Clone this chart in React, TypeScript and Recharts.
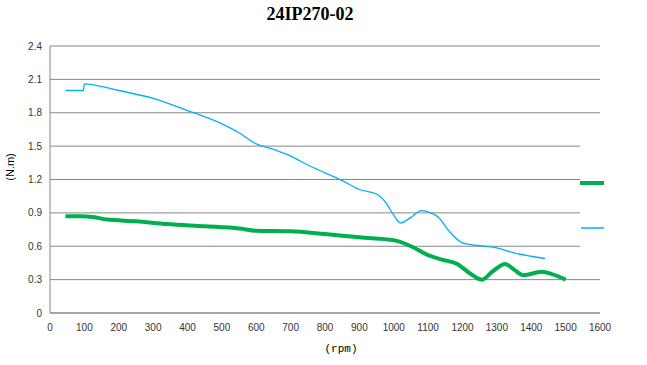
import React from 'react';
import { LineChart, Line, XAxis, YAxis, CartesianGrid, Legend, Label } from 'recharts';

const xTicks = [0, 100, 200, 300, 400, 500, 600, 700, 800, 900, 1000, 1100, 1200, 1300, 1400, 1500, 1600];
const yTicks = [0, 0.3, 0.6, 0.9, 1.2, 1.5, 1.8, 2.1, 2.4];

const blueRpm = [45, 97, 100, 115, 200, 300, 400, 500, 550, 600, 650, 700, 750, 800, 850, 900, 950, 975, 1000, 1020, 1050, 1080, 1100, 1130, 1160, 1200, 1250, 1300, 1350, 1400, 1440];
const blueTorque = [2.0, 2.0, 2.06, 2.055, 2.0, 1.93, 1.82, 1.7, 1.62, 1.52, 1.47, 1.41, 1.33, 1.26, 1.19, 1.11, 1.07, 1.0, 0.88, 0.81, 0.86, 0.92, 0.91, 0.86, 0.74, 0.63, 0.605, 0.585, 0.54, 0.51, 0.49];

const greenRpm = [45, 90, 130, 165, 250, 340, 450, 550, 600, 700, 800, 900, 1000, 1050, 1100, 1140, 1185, 1220, 1256, 1290, 1324, 1350, 1377, 1430, 1460, 1500];
const greenTorque = [0.87, 0.87, 0.86, 0.84, 0.825, 0.8, 0.78, 0.76, 0.74, 0.735, 0.71, 0.68, 0.655, 0.6, 0.52, 0.48, 0.44, 0.36, 0.3, 0.38, 0.44, 0.39, 0.34, 0.37, 0.35, 0.3];

const blueData = blueRpm.map((r, i) => ({ rpm: r, v: blueTorque[i] }));
const greenData = greenRpm.map((r, i) => ({ rpm: r, v: greenTorque[i] }));

const GREEN = '#00B050';
const BLUE = '#00B0F0';
const GRID = '#878787';

const tickStyle = { fontFamily: 'Liberation Sans', fontSize: 10, fill: '#333' };

const LegendBox = () => (
  <svg width={30} height={106} style={{ display: 'block' }}>
    <line x1={0} x2={24} y1={38} y2={38} stroke={GREEN} strokeWidth={4} />
    <line x1={1} x2={24} y1={83} y2={83} stroke={BLUE} strokeWidth={1.5} />
  </svg>
);

export default function App() {
  return (
    <div style={{ position: 'absolute', left: 0, top: 0, width: 647, height: 365, background: '#fff' }}>
      <div
        style={{
          position: 'absolute',
          left: 0,
          width: 620,
          top: 4,
          textAlign: 'center',
          fontFamily: 'Liberation Serif',
          fontWeight: 'bold',
          fontSize: 18,
          color: '#000',
        }}
      >
        24IP270-02
      </div>
      <LineChart width={647} height={365} margin={{ top: 46, right: 47, bottom: 22, left: 0 }}>
        <CartesianGrid vertical={false} stroke={GRID} strokeWidth={1} />
        <XAxis
          type="number"
          dataKey="rpm"
          domain={[0, 1600]}
          ticks={xTicks}
          tickLine={false}
          tickMargin={5}
          axisLine={{ stroke: GRID }}
          tick={tickStyle}
          height={30}
          interval={0}
        >
          <Label
            content={() => (
              <text x={341} y={352} textAnchor="middle" fontFamily="Liberation Mono" fontSize={11} fill="#000">
                (rpm)
              </text>
            )}
          />
        </XAxis>
        <YAxis
          type="number"
          domain={[0, 2.4]}
          ticks={yTicks}
          tickLine={false}
          axisLine={{ stroke: GRID }}
          tick={tickStyle}
          width={50}
          interval={0}
        >
          <Label
            content={() => (
              <text
                x={14}
                y={167}
                transform="rotate(-90, 14, 167)"
                textAnchor="middle"
                fontFamily="Liberation Sans"
                fontSize={11}
                fill="#000"
              >
                (N.m)
              </text>
            )}
          />
        </YAxis>
        <Legend
          layout="vertical"
          align="center"
          verticalAlign="middle"
          wrapperStyle={{ left: 580, top: 145, width: 30, height: 106, background: '#fff' }}
          content={() => <LegendBox />}
        />
        <Line
          data={blueData}
          dataKey="v"
          type="monotone"
          stroke={BLUE}
          strokeWidth={1.3}
          dot={false}
          isAnimationActive={false}
          name="max"
        />
        <Line
          data={greenData}
          dataKey="v"
          type="monotone"
          stroke={GREEN}
          strokeWidth={4}
          dot={false}
          isAnimationActive={false}
          name="rated"
        />
      </LineChart>
    </div>
  );
}
